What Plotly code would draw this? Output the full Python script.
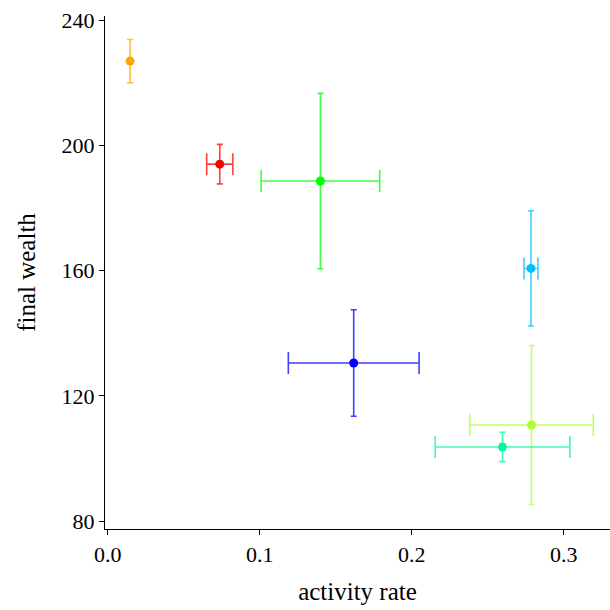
import plotly.graph_objects as go

activity = [0.0147, 0.0737, 0.1399, 0.1618, 0.2784, 0.2788, 0.2597]
activity_err = [0.0, 0.0086, 0.039, 0.043, 0.0046, 0.0406, 0.0443]
wealth = [226.9, 194.0, 188.6, 130.5, 160.7, 110.7, 103.7]
wealth_err = [6.9, 6.3, 28.0, 17.0, 18.4, 25.4, 4.7]
colors = ["#FFA500", "#FF0000", "#00FF00", "#0000FF", "#00BFFF", "#ADFF2F", "#00FA9A"]
x_ticks = [0.0, 0.1, 0.2, 0.3]
y_ticks = [80, 120, 160, 200, 240]


def rgba(h, a):
    h = h.lstrip("#")
    r, g, b = int(h[0:2], 16), int(h[2:4], 16), int(h[4:6], 16)
    return f"rgba({r},{g},{b},{a})"


fig = go.Figure()
for i in range(len(activity)):
    fig.add_trace(go.Scatter(
        x=[activity[i]], y=[wealth[i]], mode="markers",
        marker=dict(color=colors[i], size=9),
        error_x=dict(type="data", array=[activity_err[i]], color=rgba(colors[i], 0.75),
                     thickness=1.6, width=11, visible=activity_err[i] > 0),
        error_y=dict(type="data", array=[wealth_err[i]], color=rgba(colors[i], 0.75),
                     thickness=1.6, width=3),
        showlegend=False,
    ))

font = "Liberation Serif"
fig.update_layout(
    width=610, height=610,
    margin=dict(l=105, r=0, t=16, b=81),
    plot_bgcolor="white", paper_bgcolor="white",
    font=dict(family=font, size=22, color="black"),
    xaxis=dict(range=[-0.0018, 0.3304], tickvals=x_ticks, ticktext=[f"{v:.1f}" for v in x_ticks],
               showgrid=False, zeroline=False, showline=True, linecolor="black", linewidth=1.2,
               ticks="outside", ticklen=5, tickcolor="black",
               title=dict(text="activity rate", font=dict(size=25), standoff=16)),
    yaxis=dict(range=[77.5, 241.3], tickvals=y_ticks,
               showgrid=False, zeroline=False, showline=True, linecolor="black", linewidth=1.2,
               ticks="outside", ticklen=5, tickcolor="black",
               title=dict(text="final wealth", font=dict(size=25), standoff=18)),
)
fig.write_html("out.html")
